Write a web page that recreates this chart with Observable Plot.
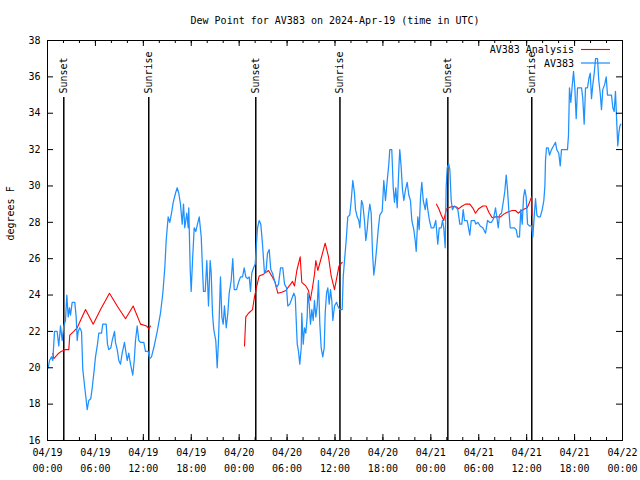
<!DOCTYPE html>
<html><head><meta charset="utf-8">
<script src="https://cdn.jsdelivr.net/npm/d3@7"></script>
<script src="https://cdn.jsdelivr.net/npm/@observablehq/plot@0.6"></script>
<style>
body{margin:0;background:#fff;}
#wrap{position:relative;width:640px;height:480px;}
#legend{position:absolute;left:0;top:0;pointer-events:none;}
</style></head><body><div id="wrap"></div>
<script>
// ---- data (hours since 2024-04-19 00:00 UTC, dew point in °F) ----
const titleText = "Dew Point for AV383 on 2024-Apr-19 (time in UTC)";
const yLabel = "degrees F";
const seriesNames = ["AV383 Analysis", "AV383"];
const seriesColors = ["#ff0000", "#1e90ff"];

const blueHours = [0.09,0.25,0.50,0.66,0.88,1.21,1.41,1.63,1.84,2.04,2.25,2.42,2.59,2.75,2.88,3.09,3.42,3.59,3.72,3.84,4.04,4.26,4.42,4.67,4.85,4.97,5.17,5.42,5.60,5.85,6.01,6.26,6.42,6.76,6.92,7.35,7.51,7.68,7.93,8.10,8.39,8.51,8.73,8.93,9.14,9.35,9.64,9.77,9.98,10.18,10.39,10.68,10.86,11.02,11.23,11.43,11.65,12.06,12.27,12.61,12.77,13.02,13.31,13.74,14.15,14.44,14.69,14.86,15.11,15.31,15.53,15.74,16.03,16.24,16.44,16.65,16.87,17.03,17.19,17.44,17.62,17.69,17.87,17.99,18.16,18.37,18.57,18.78,19.00,19.25,19.41,19.53,19.75,19.95,20.16,20.37,20.50,20.66,20.82,21.07,21.25,21.41,21.66,21.83,22.00,22.16,22.38,22.58,22.75,23.00,23.20,23.38,23.67,23.92,24.17,24.42,24.63,24.83,25.04,25.26,25.42,25.58,25.80,26.01,26.13,26.30,26.51,26.71,26.92,27.17,27.38,27.55,27.76,27.96,28.17,28.42,28.68,28.93,29.18,29.46,29.68,29.93,30.09,30.34,30.59,30.84,31.02,31.27,31.43,31.59,31.77,31.84,32.02,32.18,32.34,32.52,32.59,32.77,32.93,33.10,33.27,33.43,33.60,33.77,33.93,34.10,34.27,34.47,34.65,34.77,34.94,35.10,35.27,35.44,35.60,35.73,35.94,36.19,36.35,36.60,36.90,37.03,37.19,37.40,37.60,37.85,38.03,38.23,38.44,38.57,38.78,38.98,39.11,39.32,39.48,39.69,39.86,40.03,40.16,40.36,40.53,40.70,40.86,41.03,41.20,41.41,41.61,41.91,42.11,42.32,42.54,42.74,42.86,43.11,43.29,43.45,43.61,43.79,43.99,44.11,44.29,44.45,44.62,44.83,45.04,45.24,45.45,45.62,45.87,46.04,46.17,46.37,46.54,46.71,46.87,47.05,47.30,47.46,47.62,47.83,48.05,48.37,48.62,48.87,49.05,49.30,49.46,49.62,49.80,49.92,50.05,50.25,50.38,50.55,50.71,50.96,51.21,51.38,51.63,51.88,52.05,52.22,52.55,52.72,52.88,53.06,53.47,53.63,53.88,54.18,54.51,54.85,55.10,55.35,55.60,55.85,56.10,56.26,56.44,56.60,56.85,57.10,57.26,57.44,57.60,57.76,57.94,58.19,58.44,58.69,58.85,59.10,59.27,59.44,59.61,59.77,59.94,60.11,60.36,60.61,60.77,60.94,61.11,61.28,61.44,61.70,61.95,62.15,62.28,62.36,62.48,62.70,62.86,63.11,63.36,63.61,63.77,64.02,64.20,64.36,64.61,64.86,65.11,65.24,65.36,65.53,65.70,65.87,66.03,66.20,66.37,66.62,66.87,67.03,67.20,67.37,67.62,67.79,67.96,68.12,68.29,68.46,68.62,68.87,69.03,69.21,69.37,69.53,69.78,69.96,70.12,70.37,70.62,70.79,70.96,71.12,71.29,71.41,71.54,71.67,71.79];
const blueValues = [20.0,20.4,20.6,20.4,22.0,22.0,21.2,22.3,21.5,22.3,22.6,24.0,22.8,23.3,22.9,23.6,23.6,22.8,21.5,22.0,22.2,22.0,19.9,18.9,18.2,17.7,18.2,18.3,18.9,19.9,20.6,21.3,21.9,21.9,22.4,22.4,21.3,21.0,21.1,21.5,22.0,21.4,21.0,20.4,20.2,20.8,21.4,21.0,20.4,20.8,20.2,19.6,20.4,21.5,22.3,21.5,21.4,21.4,20.9,20.9,20.5,20.6,21.1,22.0,23.0,24.1,25.5,27.0,28.3,28.0,28.5,29.1,29.6,29.9,29.6,29.0,27.9,29.0,27.7,28.5,27.7,28.8,25.4,24.2,25.9,27.7,27.5,27.9,28.3,27.2,25.4,24.2,24.2,25.9,23.4,25.9,25.2,23.0,22.1,21.5,20.0,21.5,25.0,22.8,22.4,23.4,22.2,23.0,24.1,24.8,26.0,24.3,24.3,24.7,25.0,25.0,25.5,25.0,24.9,25.0,24.2,25.2,25.5,25.7,26.6,27.7,28.1,27.9,26.8,25.2,25.4,26.3,26.5,25.4,25.2,24.8,24.4,24.6,25.5,25.5,24.6,24.4,23.4,23.5,23.8,24.1,23.9,21.3,20.9,20.2,21.1,23.0,21.3,22.2,21.9,22.8,24.1,23.5,22.4,23.2,22.6,23.7,22.8,23.4,24.8,22.4,21.1,20.6,21.1,23.0,24.1,24.4,23.5,24.3,23.7,22.6,23.4,23.6,23.4,23.2,23.2,25.0,25.9,27.0,28.3,28.4,29.2,30.3,29.6,28.7,28.3,28.1,27.7,29.2,29.0,28.1,27.0,27.6,28.3,29.0,28.5,26.3,25.1,25.7,26.5,27.6,28.4,28.6,30.3,29.2,30.3,31.2,32.0,32.0,29.9,29.1,29.9,28.8,30.9,32.0,31.0,29.8,29.2,29.8,30.2,29.5,29.2,28.1,27.6,27.0,26.4,28.3,27.6,29.4,30.2,29.2,28.7,29.3,28.7,28.1,27.7,27.7,28.1,26.8,27.7,27.7,28.1,27.7,26.6,29.9,31.0,31.2,30.9,29.2,28.7,28.9,28.8,28.7,27.9,27.9,28.7,28.1,28.1,27.7,27.3,28.1,28.1,27.9,28.0,27.8,27.7,27.4,28.1,28.0,28.0,28.2,28.8,28.3,27.7,28.4,28.5,29.2,29.7,30.6,29.8,28.7,27.7,27.7,27.7,27.6,27.2,27.2,28.7,27.9,29.4,29.8,29.4,27.9,27.8,27.8,27.2,28.3,29.3,28.4,28.3,28.3,28.7,29.2,30.0,31.4,32.1,32.1,31.7,32.0,32.2,32.4,32.0,31.8,31.1,32.0,32.0,32.0,32.0,32.8,35.4,34.6,35.5,36.3,35.4,33.7,35.4,35.4,35.4,34.8,33.4,35.4,35.4,35.9,36.2,34.8,35.6,36.2,37.0,37.0,35.8,35.1,34.2,35.3,35.6,36.0,35.0,35.0,35.0,34.3,34.1,35.2,33.4,32.2,32.9,33.3,33.4];

const redHours = [0.66,0.79,1.41,1.72,2.25,2.67,2.79,3.29,3.72,4.13,4.76,5.72,6.64,7.76,8.73,9.77,10.73,11.65,12.40,12.68,12.90,
  24.67,24.83,25.17,25.67,25.92,26.21,26.51,27.05,27.67,28.09,28.51,28.84,29.34,29.84,30.27,30.68,30.93,31.22,31.64,31.84,32.34,32.68,32.90,33.18,33.43,33.60,33.85,34.19,34.77,35.19,35.52,35.94,36.50,36.90,
  48.71,49.00,49.30,49.62,49.96,50.21,50.68,51.09,51.50,51.93,52.34,52.88,53.31,53.59,54.00,54.51,54.93,55.26,55.68,56.10,56.72,57.14,57.56,58.19,58.60,58.94,59.35,59.77,60.07,60.36,60.61,60.67];
const redValues = [20.8,20.5,20.8,20.9,21.0,21.0,21.8,22.0,22.2,22.6,23.2,22.4,23.2,24.1,23.4,22.7,23.4,22.4,22.3,22.15,22.3,
  21.2,22.8,23.0,23.2,23.9,24.5,25.05,25.15,25.35,25.05,24.7,24.1,24.15,24.25,24.5,24.75,24.5,25.35,26.1,24.7,24.5,24.25,23.7,24.4,25.15,25.9,25.35,25.9,26.85,26.1,25.05,24.3,25.6,25.8,
  29.0,28.75,28.4,28.1,28.75,28.8,28.87,28.87,28.75,28.9,29.0,29.0,28.75,28.5,28.75,28.9,28.9,28.55,28.25,28.3,28.3,28.45,28.55,28.65,28.65,28.5,28.65,28.75,28.8,29.1,29.4,28.4];
const redSegments = [...Array(21).fill(1), ...Array(34).fill(2), ...Array(32).fill(3)];

const sunsetHours = [2.04, 26.08, 50.13];
const sunriseHours = [12.68, 36.62, 60.64];
const yTicks = [16,18,20,22,24,26,28,30,32,34,36,38];

// ---- build ----
const start = Date.UTC(2024, 3, 19);
const toDate = h => new Date(start + h * 3600000);
const blue = blueHours.map((h, i) => ({t: toDate(h), v: blueValues[i]}));
const red = redHours.map((h, i) => ({t: toDate(h), v: redValues[i], s: redSegments[i]}));
const events = [
  ...sunsetHours.map(h => ({t: toDate(h), label: "Sunset"})),
  ...sunriseHours.map(h => ({t: toDate(h), label: "Sunrise"}))
];
const W = 640, H = 480, mT = 40, mL = 47, mR = 18, mB = 40;
const pw = W - mL - mR, ph = H - mT - mB;
const majorX = d3.utcHour.every(6).range(toDate(0), toDate(72.01));
const minorX = d3.utcHour.every(2).range(toDate(0), toDate(72.01));
const font = "'DejaVu Sans Mono', monospace";

const chart = Plot.plot({
  width: W, height: H,
  marginTop: mT, marginLeft: mL, marginRight: mR, marginBottom: mB,
  style: {fontFamily: font, fontSize: "10px", color: "black", background: "white"},
  x: {type: "utc", domain: [toDate(0), toDate(72)]},
  y: {domain: [16, 38]},
  marks: [
    Plot.ruleX(events, {x: "t", stroke: "black", strokeWidth: 1.5, insetTop: 57}),
    Plot.text(events, {x: "t", text: "label", frameAnchor: "top", rotate: -90, textAnchor: "start", lineAnchor: "middle", dy: 53, fill: "black"}),
    Plot.line(red, {x: "t", y: "v", z: "s", stroke: seriesColors[0], strokeWidth: 1.1}),
    Plot.line(blue, {x: "t", y: "v", stroke: seriesColors[1], strokeWidth: 1.25}),
    Plot.ruleY(yTicks, {stroke: "black", insetRight: pw - 6}),
    Plot.ruleY(yTicks, {stroke: "black", insetLeft: pw - 6}),
    Plot.ruleX(minorX, {stroke: "black", insetTop: ph - 3}),
    Plot.ruleX(minorX, {stroke: "black", insetBottom: ph - 3}),
    Plot.ruleX(majorX, {stroke: "black", insetTop: ph - 6}),
    Plot.ruleX(majorX, {stroke: "black", insetBottom: ph - 6}),
    Plot.axisY({ticks: yTicks, tickSize: 0, tickPadding: 7, label: null}),
    Plot.axisX({ticks: majorX, tickFormat: d3.utcFormat("%m/%d"), tickSize: 0, tickPadding: 8, label: null}),
    Plot.axisX({ticks: majorX, tickFormat: d3.utcFormat("%H:%M"), tickSize: 0, tickPadding: 24, label: null}),
    Plot.text([titleText], {text: d => d, frameAnchor: "top", dy: -20, lineAnchor: "middle", fill: "black"}),
    Plot.text([yLabel], {text: d => d, frameAnchor: "left", dx: -37, rotate: -90, lineAnchor: "middle", fill: "black"}),
    Plot.frame({stroke: "black"})
  ]
});
const wrap = document.getElementById("wrap");
wrap.appendChild(chart);

// legend overlay (top-right inside the plot frame)
const ns = "http://www.w3.org/2000/svg";
const leg = document.createElementNS(ns, "svg");
leg.setAttribute("id", "legend");
leg.setAttribute("width", W); leg.setAttribute("height", H);
seriesNames.forEach((name, i) => {
  const y = 49.5 + i * 13.5;
  const t = document.createElementNS(ns, "text");
  t.setAttribute("x", 574); t.setAttribute("y", y);
  t.setAttribute("text-anchor", "end"); t.setAttribute("dominant-baseline", "central");
  t.setAttribute("font-family", font); t.setAttribute("font-size", "10px"); t.setAttribute("fill", "black");
  t.textContent = name;
  leg.appendChild(t);
  const l = document.createElementNS(ns, "line");
  l.setAttribute("x1", 581); l.setAttribute("x2", 610);
  l.setAttribute("y1", y); l.setAttribute("y2", y);
  l.setAttribute("stroke", seriesColors[i]); l.setAttribute("stroke-width", i === 0 ? 1.1 : 1.25);
  leg.appendChild(l);
});
wrap.appendChild(leg);
</script></body></html>
